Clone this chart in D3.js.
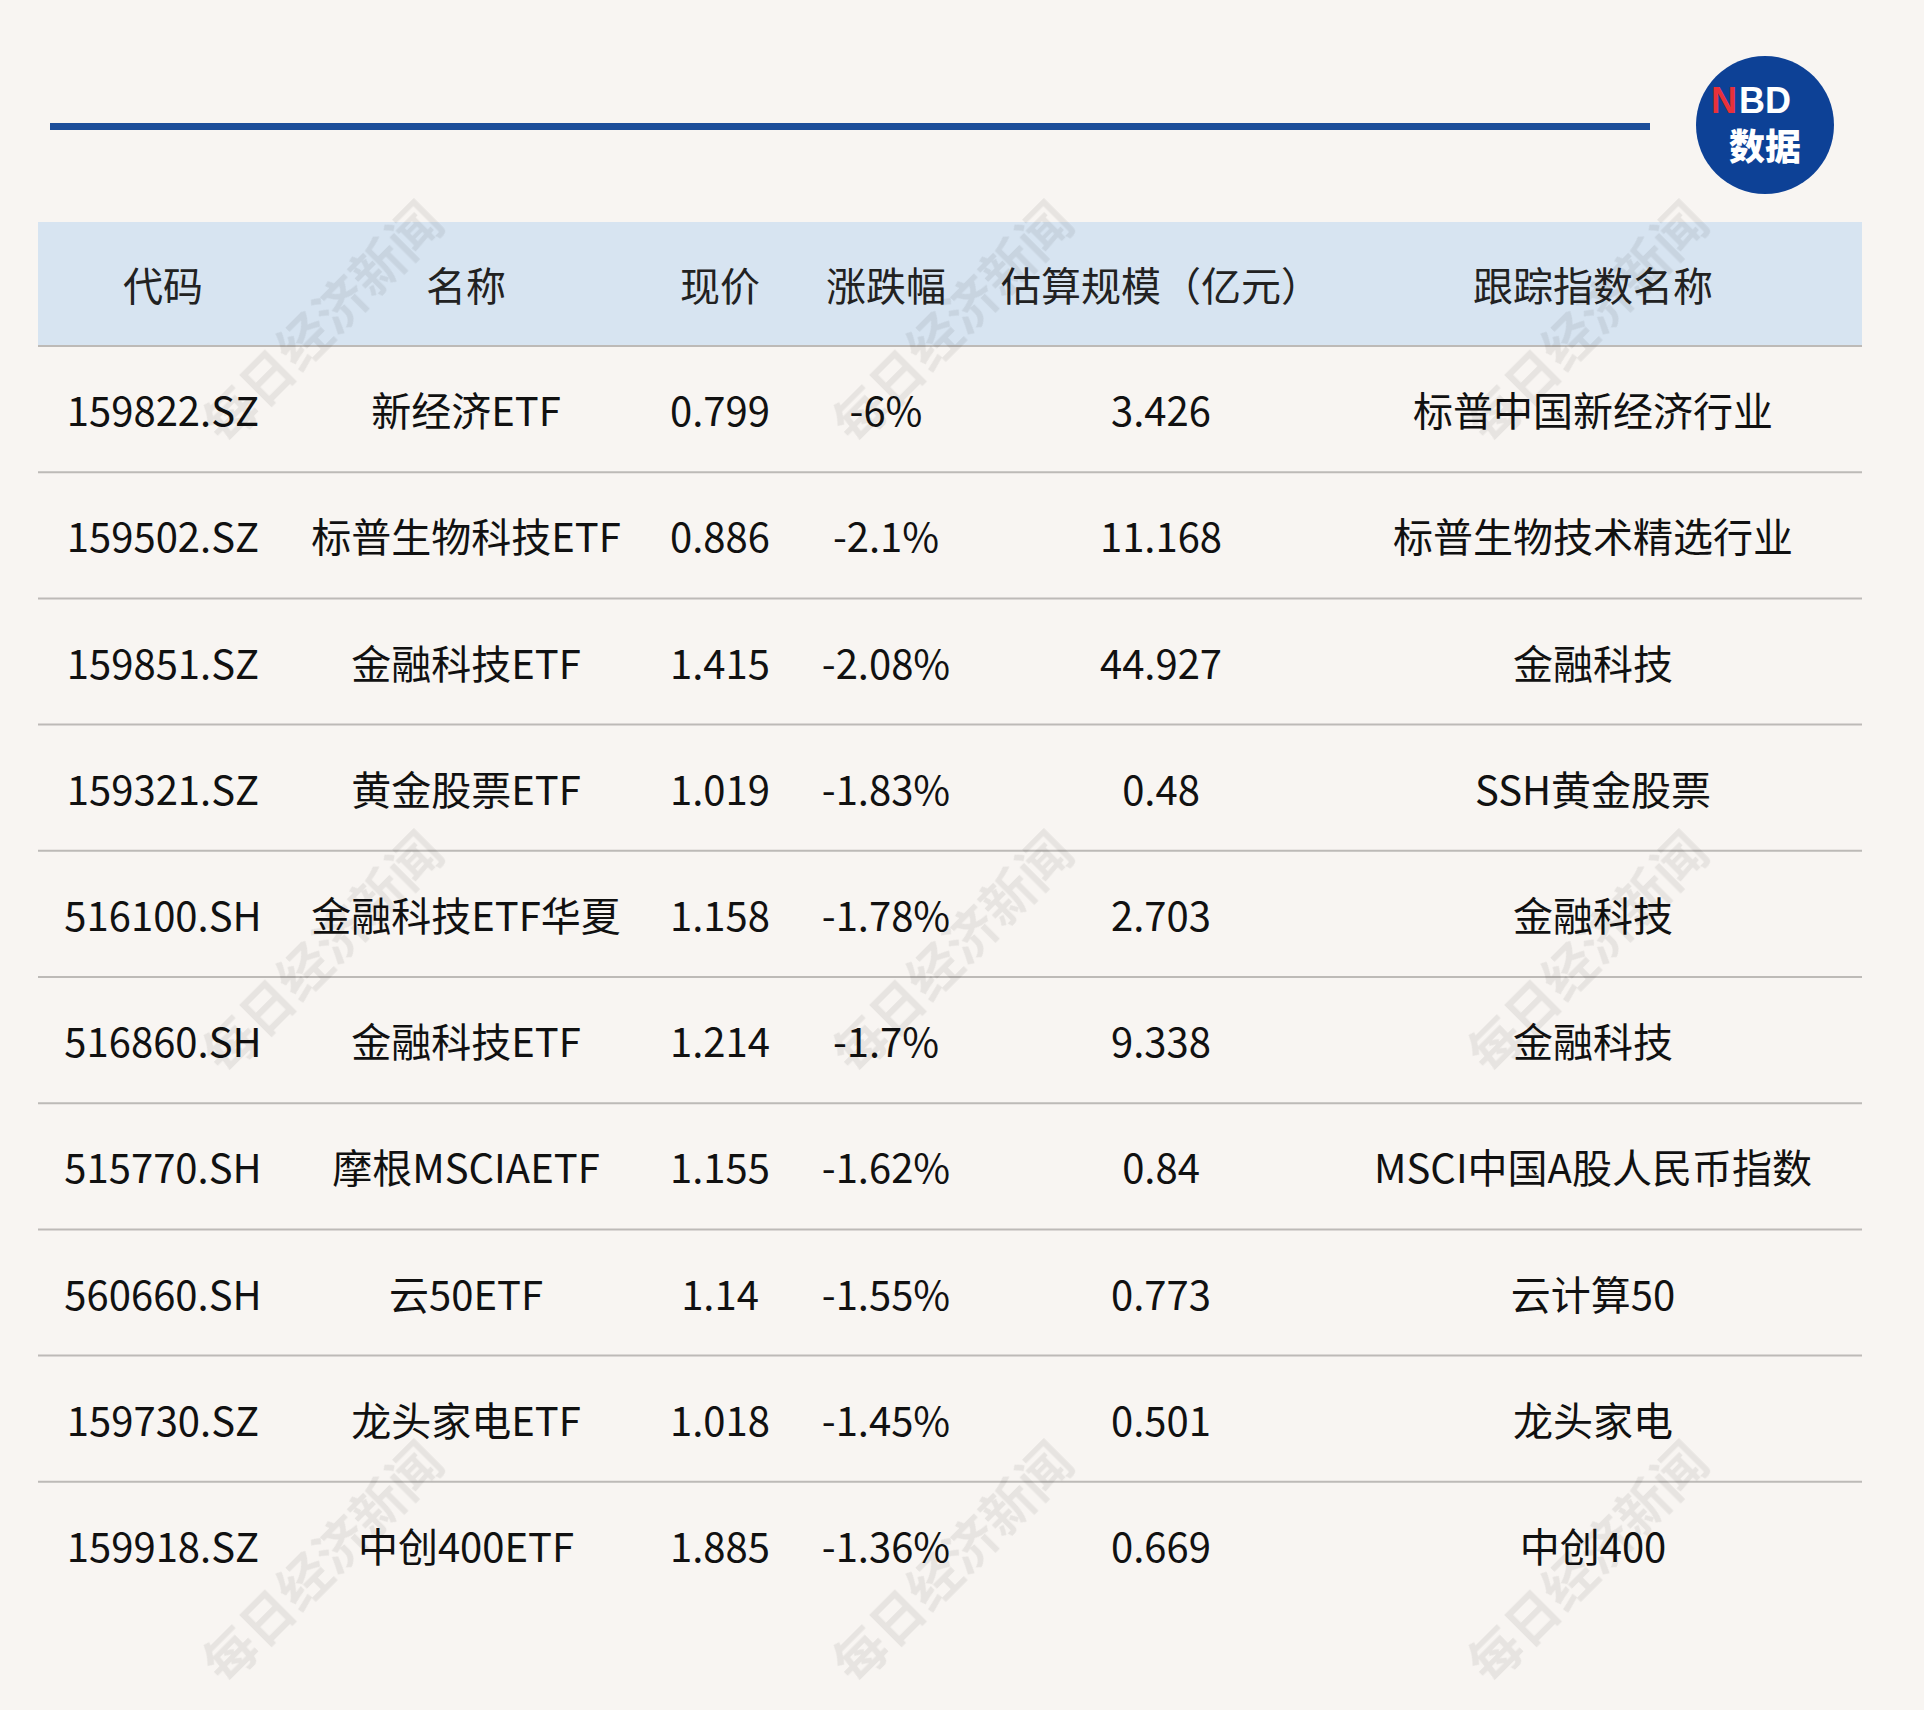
<!DOCTYPE html>
<html><head><meta charset="utf-8">
<script src="https://cdn.jsdelivr.net/npm/d3@7"></script>
<style>body{margin:0;background:#f8f5f2}</style></head>
<body><script>
const headers=["代码","名称","现价","涨跌幅","估算规模（亿元）","跟踪指数名称"];
const codes=["159822.SZ","159502.SZ","159851.SZ","159321.SZ","516100.SH","516860.SH","515770.SH","560660.SH","159730.SZ","159918.SZ"];
const names=["新经济ETF","标普生物科技ETF","金融科技ETF","黄金股票ETF","金融科技ETF华夏","金融科技ETF","摩根MSCIAETF","云50ETF","龙头家电ETF","中创400ETF"];
const prices=["0.799","0.886","1.415","1.019","1.158","1.214","1.155","1.14","1.018","1.885"];
const changes=["-6%","-2.1%","-2.08%","-1.83%","-1.78%","-1.7%","-1.62%","-1.55%","-1.45%","-1.36%"];
const scales=["3.426","11.168","44.927","0.48","2.703","9.338","0.84","0.773","0.501","0.669"];
const indices=["标普中国新经济行业","标普生物技术精选行业","金融科技","SSH黄金股票","金融科技","金融科技","MSCI中国A股人民币指数","云计算50","龙头家电","中创400"];
const colX=[163,466,720,886,1161,1593];
const W=1924,H=1710,L=38,R=1862,hTop=222,hBot=346,rowH=126.2;
const font='"Noto Sans CJK SC","Noto Sans",sans-serif';
const svg=d3.select("body").append("svg").attr("width",W).attr("height",H);
svg.append("rect").attr("width",W).attr("height",H).attr("fill","#f8f5f2");
svg.append("rect").attr("x",50).attr("y",123).attr("width",1600).attr("height",7).attr("fill","#1c4e9a");
const g=svg.append("g");
g.append("circle").attr("cx",1765).attr("cy",125).attr("r",69).attr("fill","#0d4196");
g.append("text").attr("x",1737).attr("y",113).attr("text-anchor","end").attr("font-family","Liberation Sans,Arial").attr("font-weight","bold").attr("font-size",36).attr("fill","#e8313a").text("N");
g.append("text").attr("x",1739).attr("y",113).attr("text-anchor","start").attr("font-family","Liberation Sans,Arial").attr("font-weight","bold").attr("font-size",36).attr("fill","#fff").text("BD");
g.append("text").attr("x",1765).attr("y",160).attr("text-anchor","middle").attr("font-family",font).attr("font-weight","900").attr("font-size",36).attr("fill","#fff").text("数据");
svg.append("rect").attr("x",L).attr("y",hTop).attr("width",R-L).attr("height",hBot-hTop).attr("fill","#d7e4f1");
const y=d3.scaleBand().domain(d3.range(10)).range([hBot,hBot+rowH*10]);
svg.selectAll("line.r").data(d3.range(10)).join("line").attr("x1",L).attr("x2",R)
 .attr("y1",d=>y(d)).attr("y2",d=>y(d)).attr("stroke","#bdbab7").attr("stroke-width",2);
svg.selectAll("text.h").data(headers).join("text").attr("x",(d,i)=>colX[i]).attr("y",(hTop+hBot)/2)
 .attr("text-anchor","middle").attr("dominant-baseline","central").attr("font-family",font).attr("font-size",40).attr("fill","#222").text(d=>d);
const cols=[codes,names,prices,changes,scales,indices];
cols.forEach((arr,c)=>{
 svg.selectAll("text.c"+c).data(arr).join("text").attr("x",colX[c]).attr("y",(d,i)=>y(i)+y.bandwidth()/2)
 .attr("text-anchor","middle").attr("dominant-baseline","central").attr("font-family",font).attr("font-size",40).attr("fill","#111").text(d=>d);
});
const wm=svg.append("g").attr("opacity",0.07);
[320,950,1585].forEach(x=>[320,950,1560].forEach(yy=>{
 wm.append("text").attr("transform",`translate(${x},${yy}) rotate(-45)`).attr("text-anchor","middle").attr("dominant-baseline","central")
 .attr("font-family",font).attr("font-weight","bold").attr("font-size",52).attr("fill","#000").text("每日经济新闻");
}));
</script></body></html>
